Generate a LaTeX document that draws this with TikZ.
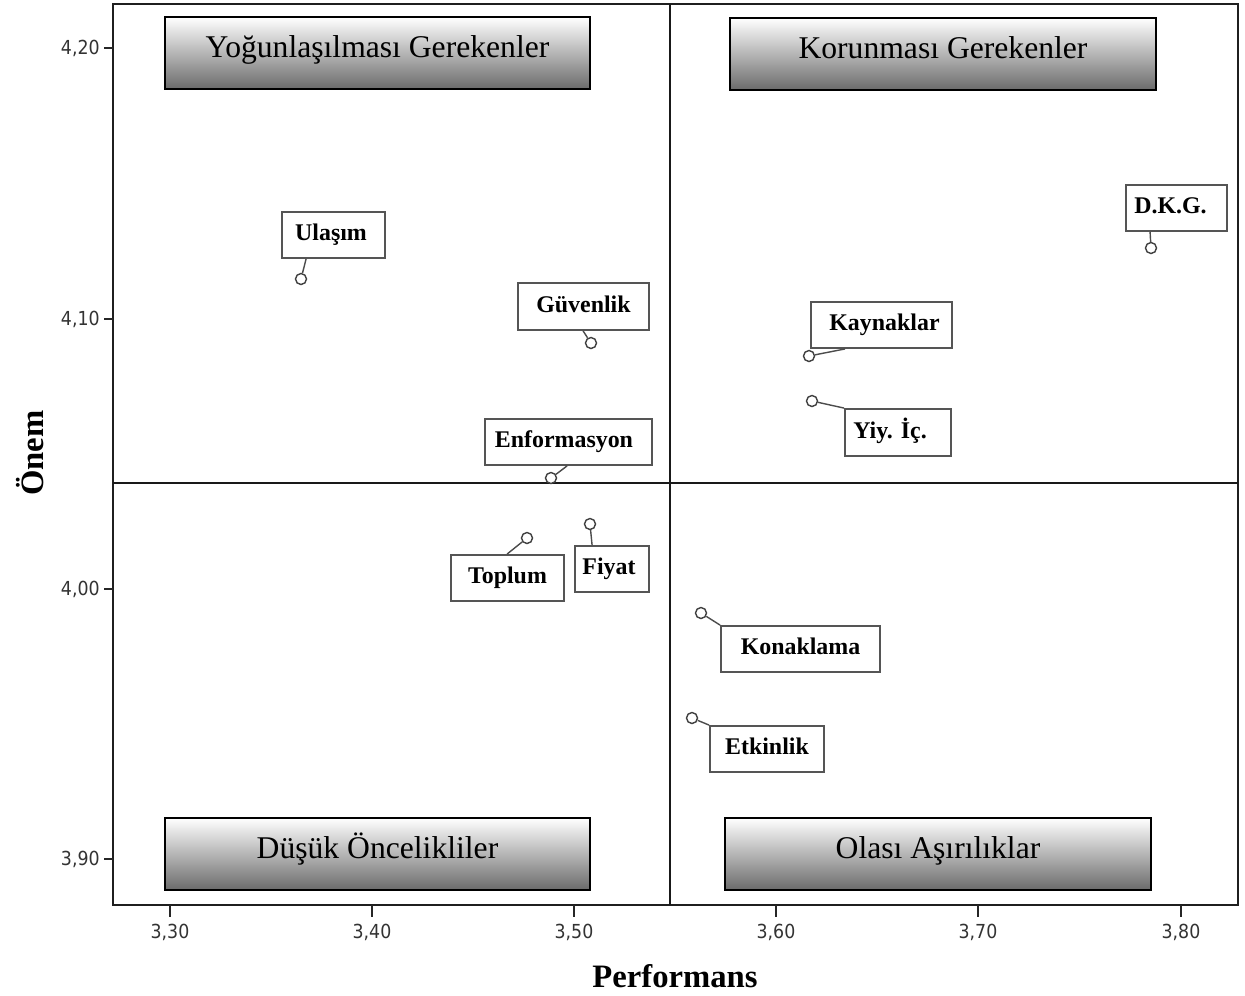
\documentclass[tikz,border=0pt]{standalone}
\usepackage{fontspec}
\setmainfont{Liberation Serif}
\newfontfamily\tickfont{DejaVu Sans Condensed}
\usetikzlibrary{calc}
\definecolor{edgegray}{RGB}{85,85,85}
\definecolor{ticktext}{RGB}{51,51,51}
\begin{document}
\begin{tikzpicture}[x=0.02cm,y=-0.02cm,
  frame/.style={line width=1.4pt,draw=black!88},
  divider/.style={line width=0.9pt,draw=black!90},
  tick/.style={line width=0.9pt,draw=black!85},
  ytl/.style={anchor=east,font=\tickfont\fontsize{11}{12}\selectfont,text=ticktext,inner sep=0pt},
  xtl/.style={anchor=north,font=\tickfont\fontsize{11}{12}\selectfont,text=ticktext,inner sep=0pt},
  quad/.style={draw=black,line width=0.8pt,top color=white,bottom color=black!58,
    minimum width=425*0.02cm,minimum height=72*0.02cm,inner xsep=0pt,inner ysep=0pt,
    text height=0.8cm,text depth=0.64cm,font=\fontsize{18}{20}\selectfont},
  lab/.style 2 args={draw=edgegray,line width=1.05pt,fill=white,inner sep=0pt,
    minimum width=#1*0.02cm,minimum height=#2*0.02cm,text height=0.66em,text depth=0pt,
    font=\bfseries\fontsize{13.6}{15}\selectfont},
  pt/.style={circle,draw=black!75,line width=0.8pt,fill=white,inner sep=0pt,minimum size=11*0.02cm},
  lead/.style={draw=black!70,line width=0.8pt},
  axtitle/.style={font=\bfseries\fontsize{18.6}{20}\selectfont,inner sep=0pt}]
\useasboundingbox (0,0) rectangle (1245,995);

% plot frame and quadrant dividers
\draw[frame] (113,4) rectangle (1238,905);
\draw[divider] (113,483) -- (1238,483);
\draw[divider] (670,4) -- (670,905);

% y axis ticks (Önem)
\foreach \v/\yy in {{4,20}/48,{4,10}/319,{4,00}/589,{3,90}/859}{
  \draw[tick] (104,\yy) -- (113,\yy);
  \node[ytl] at (100,\yy) {\v};
}
% x axis ticks (Performans)
\foreach \v/\xx in {{3,30}/170,{3,40}/372,{3,50}/574,{3,60}/776,{3,70}/978,{3,80}/1181}{
  \draw[tick] (\xx,905) -- (\xx,917);
  \node[xtl] at (\xx,924) {\v};
}

% axis titles
\node[axtitle] (xtitle) at (675,976) {Performans};
\node[axtitle,rotate=90] (ytitle) at (30,453) {Önem};

% quadrant captions
\node[quad] (q1) at (377.5,53) {Yoğunlaşılması Gerekenler};
\node[quad,minimum width=426*0.02cm] (q2) at (943,54) {Korunması Gerekenler};
\node[quad] (q3) at (377.5,854) {Düşük Öncelikliler};
\node[quad,minimum width=426*0.02cm] (q4) at (938,854) {Olası Aşırılıklar};

% data points
\node[pt] (pul) at (301,279) {};
\node[pt] (pgu) at (591,343) {};
\node[pt] (pen) at (551,478) {};
\node[pt] (pto) at (527,538) {};
\node[pt] (pfi) at (590,524) {};
\node[pt] (pko) at (701,613) {};
\node[pt] (pet) at (692,718) {};
\node[pt] (pdk) at (1151,248) {};
\node[pt] (pka) at (809,356) {};
\node[pt] (pyi) at (812,401) {};

% point labels
\node[lab={103}{46}] (bul) at (333.5,235) {\kern-0.1cm Ulaşım};
\node[lab={131}{47}] (bgu) at (583.5,306.5) {Güvenlik};
\node[lab={167}{46}] (ben) at (568.5,442) {\kern-0.18cm Enformasyon};
\node[lab={113}{46}] (bto) at (507.5,578) {Toplum};
\node[lab={74}{46}] (bfi) at (612,569) {\kern-0.12cm Fiyat};
\node[lab={159}{46}] (bko) at (800.5,649) {Konaklama};
\node[lab={114}{46}] (bet) at (767,749) {Etkinlik};
\node[lab={101}{46}] (bdk) at (1176.5,208) {\kern-0.24cm D.K.G.};
\node[lab={141}{46}] (bka) at (881.5,325) {Kaynaklar\kern-0.12cm};
\node[lab={106}{47}] (byi) at (898,432.5) {\kern-0.32cm Yiy. İç.};

% leader lines from points to their labels
\draw[lead] (pul) -- ($(bul.south west)+(25,0)$);
\draw[lead] (pgu) -- ($(bgu.south west)+(66,0)$);
\draw[lead] (pen) -- ($(ben.south west)+(83,0)$);
\draw[lead] (pto) -- ($(bto.north west)+(57,0)$);
\draw[lead] (pfi) -- ($(bfi.north west)+(18,0)$);
\draw[lead] (pko) -- (bko.north west);
\draw[lead] (pet) -- (bet.north west);
\draw[lead] (pdk) -- ($(bdk.south west)+(25,0)$);
\draw[lead] (pka) -- ($(bka.south west)+(35,0)$);
\draw[lead] (pyi) -- (byi.north west);
\end{tikzpicture}
\end{document}
